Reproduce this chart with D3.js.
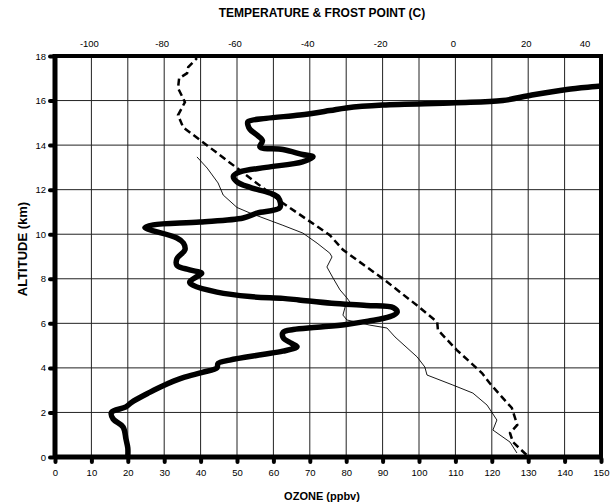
<!DOCTYPE html>
<html>
<head>
<meta charset="utf-8">
<script src="https://cdn.jsdelivr.net/npm/d3@7"></script>
<style>
  body { margin: 0; background: #fff; }
  text { font-family: "Liberation Sans", Arial, sans-serif; fill: #000; }
  .axis path { display: none; }
  .axis line { stroke: #000; stroke-width: 4; stroke-linecap: round; }
  .axis text { font-size: 9.5px; }
  .title { font-weight: bold; }
</style>
</head>
<body>
<div id="chart"></div>
<script>
// ozone profile: [ppbv, altitude km]
var ozoneData = [
  [20,0],[20,0.4],[19.5,0.8],[18.7,1.35],[16,1.7],[15.5,2.0],[19.5,2.25],[21,2.45],[26,2.9],
  [29.7,3.2],[35,3.55],[40.5,3.8],[44.5,4.0],[44.8,4.2],[48,4.35],[57,4.6],[62.6,4.75],[66.5,4.95],
  [65,5.1],[62.7,5.35],[62.7,5.6],[65.5,5.72],[72,5.82],[80,5.95],[86,6.1],[92,6.3],[94,6.5],
  [93,6.7],[85.6,6.8],[76,6.9],[67,7.05],[62.6,7.12],[53.6,7.2],[44.5,7.4],[38,7.7],[37,7.85],
  [39,8.1],[40.3,8.25],[37,8.4],[33.5,8.6],[33.5,8.9],[35.7,9.3],[35.3,9.6],[33.5,9.83],[26,10.2],
  [24.7,10.3],[27,10.42],[39.8,10.55],[51.7,10.73],[55.5,10.95],[61.8,11.2],[61.3,11.65],[59,11.85],
  [53.6,12.1],[50,12.35],[49,12.6],[50.8,12.8],[58,13.0],[68,13.25],[70.9,13.47],[68,13.58],
  [62.6,13.8],[56.3,13.92],[57,14.2],[55.5,14.45],[53.6,14.7],[53,14.9],[53,15.05],[58,15.2],
  [67.3,15.35],[75.5,15.55],[80,15.67],[90,15.8],[110,15.9],[123,16.0],[131,16.25],[140.6,16.5],
  [150,16.65],[155,16.75]
];

// temperature: [deg C, altitude km]
var tempData = [
  [19.5,0.1],[15.8,0.67],[15,1.08],[17,1.44],[15.5,2.2],[12.3,2.78],[9.5,3.3],[7.3,3.77],
  [0.4,4.8],[-4.8,5.7],[-5,6.06],[-10.5,6.8],[-19.9,8.0],[-30.9,9.3],[-34.5,9.96],[-47.4,11.4],
  [-60,12.97],[-74.8,14.8],[-76.2,15.35],[-74.3,15.93],[-76.2,16.56],[-75.9,17.0],[-73.7,17.23],
  [-73.4,17.5],[-71,17.9]
];

// frost point: [deg C, altitude km]
var frostData = [
  [16.9,0.18],[15,0.67],[10.3,1.21],[11.4,1.66],[8.7,2.33],[4.8,2.87],[-0.7,3.23],[-7.8,3.68],
  [-8.4,4.04],[-10.5,4.49],[-16.6,5.39],[-18.8,5.79],[-23.5,5.92],[-29.8,6.15],[-30.9,6.37],
  [-30.3,6.73],[-29,6.96],[-29.8,7.14],[-31.7,7.5],[-33.6,8.03],[-35.3,8.53],[-33.9,8.98],
  [-34.5,9.15],[-38,9.6],[-41.9,10.05],[-47.4,10.4],[-56.4,10.95],[-60,11.2],[-63.8,11.76],
  [-65.2,12.3],[-68.2,12.97],[-71,13.47]
];

var ozoneTicks = d3.range(0, 151, 10);
var tempTicks = [-100, -80, -60, -40, -20, 0, 20, 40];
var altTicks = d3.range(0, 19, 2);

var margin = { top: 56, right: 12, bottom: 47, left: 55 };
var width = 613 - margin.left - margin.right,
    height = 504 - margin.top - margin.bottom;

var svg = d3.select("#chart").append("svg")
    .attr("width", 613)
    .attr("height", 504);

var g = svg.append("g")
    .attr("transform", "translate(" + margin.left + "," + margin.top + ")");

var x = d3.scaleLinear().domain([0, 150]).range([0, width]);
var xt = d3.scaleLinear().domain([-110, 40]).range([0, width]);
var y = d3.scaleLinear().domain([0, 18]).range([height, 0]);

// grid
g.append("g").selectAll("line").data(ozoneTicks.slice(1, -1))
  .enter().append("line")
    .attr("x1", function(d) { return x(d); })
    .attr("x2", function(d) { return x(d); })
    .attr("y1", 0).attr("y2", height)
    .attr("stroke", "#222").attr("stroke-width", 1);
g.append("g").selectAll("line").data(altTicks.slice(1, -1))
  .enter().append("line")
    .attr("x1", 0).attr("x2", width)
    .attr("y1", function(d) { return y(d); })
    .attr("y2", function(d) { return y(d); })
    .attr("stroke", "#222").attr("stroke-width", 1);

g.append("clipPath").attr("id", "clip")
  .append("rect").attr("width", width).attr("height", height);

var plot = g.append("g").attr("clip-path", "url(#clip)");

var ozoneLine = d3.line()
    .x(function(d) { return x(d[0]); })
    .y(function(d) { return y(d[1]); })
    .curve(d3.curveCatmullRom);
var tempLine = d3.line()
    .x(function(d) { return xt(d[0]); })
    .y(function(d) { return y(d[1]); });

plot.append("path").datum(frostData)
    .attr("d", tempLine)
    .attr("fill", "none").attr("stroke", "#000").attr("stroke-width", 0.9);
plot.append("path").datum(tempData)
    .attr("d", tempLine)
    .attr("fill", "none").attr("stroke", "#000").attr("stroke-width", 2.5)
    .attr("stroke-dasharray", "7,4");
plot.append("path").datum(ozoneData)
    .attr("d", ozoneLine)
    .attr("fill", "none").attr("stroke", "#000").attr("stroke-width", 5.5)
    .attr("stroke-linejoin", "round");

// frame
g.append("line").attr("x1", 0).attr("x2", width + 2).attr("y1", 0).attr("y2", 0)
    .attr("stroke", "#000").attr("stroke-width", 4);
g.append("line").attr("x1", width).attr("x2", width).attr("y1", 0).attr("y2", height)
    .attr("stroke", "#000").attr("stroke-width", 4);

// axes
var xAxis = d3.axisBottom(x).tickValues(ozoneTicks).tickSize(3).tickPadding(7);
g.append("g").attr("class", "x-axis axis")
    .attr("transform", "translate(0," + (height + 2) + ")")
    .call(xAxis);

var yAxis = d3.axisLeft(y).tickValues(altTicks).tickSize(3).tickPadding(4);
g.append("g").attr("class", "y-axis axis")
    .attr("transform", "translate(-2,0)")
    .call(yAxis);

g.append("line").attr("x1", 0).attr("x2", 0).attr("y1", -2).attr("y2", height + 2)
    .attr("stroke", "#000").attr("stroke-width", 5);
g.append("line").attr("x1", 0).attr("x2", width + 2).attr("y1", height).attr("y2", height)
    .attr("stroke", "#000").attr("stroke-width", 5);

// top temperature labels (no tick marks)
g.append("g").attr("class", "axis").selectAll("text").data(tempTicks)
  .enter().append("text")
    .attr("x", function(d) { return d == 40 ? xt(d) - 16 : xt(d) - 2; })
    .attr("y", -9)
    .attr("text-anchor", "middle")
    .text(function(d) { return d; });

// titles
svg.append("text").attr("class", "title")
    .attr("x", 322).attr("y", 17)
    .attr("text-anchor", "middle")
    .style("font-size", "12px")
    .text("TEMPERATURE & FROST POINT (C)");
svg.append("text").attr("class", "title")
    .attr("x", 322).attr("y", 500)
    .attr("text-anchor", "middle")
    .style("font-size", "11px")
    .text("OZONE (ppbv)");
svg.append("text").attr("class", "title")
    .attr("transform", "translate(27,249) rotate(-90)")
    .attr("text-anchor", "middle")
    .style("font-size", "13px")
    .text("ALTITUDE (km)");
</script>
</body>
</html>
